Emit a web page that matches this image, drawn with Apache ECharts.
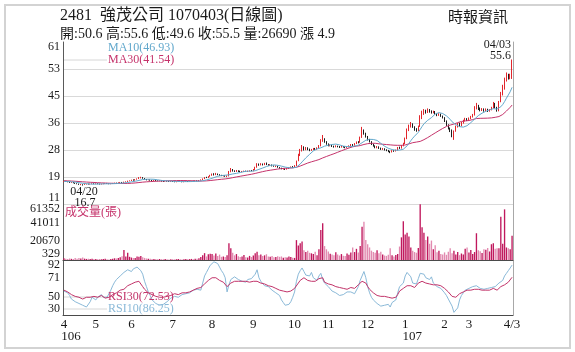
<!DOCTYPE html>
<html>
<head>
<meta charset="utf-8">
<script src="https://cdn.jsdelivr.net/npm/echarts@6/dist/echarts.min.js"></script>
<style>
  html, body { margin: 0; padding: 0; background: #fff; }
  #chart { width: 575px; height: 352px; }
</style>
</head>
<body>
<div id="chart"></div>
<script>
const SERIF = "'Liberation Serif', 'Noto Sans CJK TC', serif";

// trading-day index of each month label on the time axis
const monthTicks = [[0, '4', '106'], [17, '5'], [36, '6'], [58, '7'], [79, '8'], [101, '9'],
  [123, '10'], [141, '11'], [162, '12'], [182, '1', '107'], [203, '2'], [216, '3'], [239, '4/3']];

const priceTickValues = [11, 19.333, 27.667, 36, 44.333, 52.667, 61];
const priceTickLabels = ['11', '19', '28', '36', '45', '53', '61'];
const volumeTickValues = [329, 20670, 41011, 61352];
const rsiTickValues = [30, 50.667, 71.333, 92];
const rsiTickLabels = ['30', '50', '71', '92'];

// closes before the first shown day, needed for the moving averages
const priorCloses = [18.6, 18.5, 18.7, 18.4, 18.3, 18.5, 18.6, 18.4, 18.2, 18.3, 18.1, 18.2, 18.4, 18.3,
  18.1, 18.0, 18.2, 18.3, 18.1, 17.9, 18.0, 18.2, 18.1, 17.9, 17.8, 18.0, 18.1, 17.9, 17.8];

// daily [open, close, low, high]
const candles = [
  // 2017/04
  [17.9,18.0,17.8,18.1],[18.0,17.9,17.8,18.1],[17.9,17.8,17.7,18.0],[17.8,17.6,17.5,17.9],[17.6,17.7,17.5,17.8],
  [17.7,17.5,17.4,17.8],[17.5,17.3,17.2,17.6],[17.3,17.2,17.1,17.4],[17.2,17.0,16.9,17.3],[17.0,17.1,16.8,17.2],
  [17.1,16.9,16.7,17.1],[16.9,17.1,16.9,17.2],[17.1,17.2,17.0,17.3],[17.2,17.1,17.0,17.3],[17.1,17.2,17.0,17.3],
  [17.2,17.3,17.1,17.4],[17.3,17.2,17.1,17.4],
  // 05
  [17.2,17.3,17.1,17.4],[17.3,17.2,17.1,17.4],[17.2,17.1,17.0,17.3],[17.1,17.2,17.0,17.3],[17.2,17.3,17.1,17.4],
  [17.3,17.4,17.2,17.5],[17.4,17.3,17.2,17.5],[17.3,17.2,17.1,17.4],[17.2,17.3,17.1,17.4],[17.3,17.4,17.2,17.5],
  [17.4,17.5,17.3,17.6],[17.5,17.4,17.3,17.6],[17.4,17.6,17.3,17.7],[17.6,17.7,17.5,17.8],[17.7,17.6,17.5,17.8],
  [17.6,17.8,17.5,17.9],[17.8,17.9,17.7,18.0],[17.9,18.1,17.8,18.2],[18.1,18.2,18.0,18.3],
  // 06
  [18.2,18.4,18.1,18.5],[18.4,18.3,18.2,18.6],[18.3,18.6,18.2,18.7],[18.6,18.8,18.5,18.9],[18.8,19.0,18.7,19.3],
  [19.0,19.2,18.9,19.4],[19.2,18.9,18.8,19.3],[18.9,18.6,18.5,19.0],[18.6,18.4,18.3,18.7],[18.4,18.5,18.3,18.6],
  [18.5,18.3,18.2,18.6],[18.3,18.2,18.1,18.4],[18.2,18.3,18.1,18.4],[18.3,18.2,18.1,18.4],[18.2,18.1,18.0,18.3],
  [18.1,18.2,18.0,18.3],[18.2,18.0,17.9,18.3],[18.0,17.9,17.8,18.1],[18.0,18.1,17.9,18.2],[18.1,18.0,17.9,18.2],
  [18.0,17.9,17.8,18.1],[17.9,18.0,17.8,18.1],
  // 07
  [18.0,17.9,17.8,18.1],[17.9,17.8,17.7,18.0],[17.8,17.9,17.7,18.0],[17.9,18.0,17.8,18.1],[18.0,17.9,17.8,18.1],
  [17.9,17.8,17.7,18.0],[17.8,17.9,17.7,18.0],[17.9,18.0,17.8,18.1],[18.0,17.9,17.8,18.1],[17.9,18.0,17.8,18.1],
  [18.0,18.1,17.9,18.2],[18.1,18.0,17.9,18.2],[18.0,18.2,17.9,18.3],[18.2,18.1,18.0,18.3],[18.1,18.3,18.0,18.4],
  [18.3,18.5,18.2,18.6],[18.5,18.8,18.4,18.9],[18.8,19.2,18.7,19.3],[19.2,19.1,19.0,19.4],[19.1,19.5,19.0,19.6],
  [19.5,19.8,19.4,20.0],
  // 08
  [19.8,20.2,19.7,20.4],[20.2,20.0,19.8,20.5],[20.0,20.3,19.9,20.6],[20.3,20.1,19.9,20.4],[20.1,19.9,19.7,20.2],
  [19.9,19.7,19.6,20.0],[19.7,19.8,19.5,19.9],[19.8,19.5,19.4,19.9],[19.5,19.6,19.3,19.8],[19.6,21.0,19.5,21.2],
  [21.0,21.6,20.8,22.1],[21.6,21.2,21.0,21.8],[21.2,21.0,20.9,21.4],[21.0,21.3,20.9,21.5],[21.3,21.1,20.9,21.4],
  [21.1,20.9,20.8,21.3],[20.9,21.0,20.8,21.2],[21.0,21.2,20.9,21.3],[21.2,21.0,20.9,21.3],[21.0,21.1,20.9,21.3],
  [21.1,21.3,21.0,21.4],[21.3,21.2,21.1,21.5],
  // 09
  [21.2,21.6,21.1,21.8],[21.6,22.3,21.5,22.5],[22.3,23.2,22.2,23.6],[23.2,23.0,22.8,23.5],[23.0,23.3,22.9,23.6],
  [23.3,23.1,22.9,23.5],[23.1,23.4,23.0,23.7],[23.4,23.2,23.0,23.8],[23.2,22.9,22.8,23.3],[22.9,23.1,22.8,23.3],
  [23.1,22.8,22.6,23.2],[22.8,22.6,22.5,22.9],[22.6,22.7,22.4,22.9],[22.7,22.3,22.2,22.8],[22.3,22.1,21.9,22.4],
  [22.1,21.8,21.7,22.2],[21.8,21.9,21.6,22.0],[21.9,21.7,21.5,22.0],[21.7,21.9,21.6,22.1],[21.9,22.2,21.8,22.3],
  [22.2,22.5,22.1,22.6],[22.5,22.4,22.2,22.7],
  // 10
  [22.4,22.8,22.3,23.0],[22.8,24.4,22.7,24.4],[24.4,26.0,24.2,26.5],[26.0,27.6,25.8,28.0],[27.6,28.4,27.2,29.2],
  [28.4,27.8,27.5,28.8],[27.8,28.3,27.6,28.6],[28.3,27.9,27.6,28.5],[27.9,27.6,27.3,28.1],[27.6,27.8,27.4,28.0],
  [27.8,28.1,27.6,28.3],[28.1,27.9,27.7,28.3],[27.9,28.3,27.8,28.5],[28.3,28.9,28.2,29.2],[28.9,30.8,28.8,31.0],
  [30.8,31.0,30.2,32.3],[31.0,30.2,29.9,31.3],[30.2,29.5,29.3,30.4],
  // 11
  [29.5,29.0,28.8,29.7],[29.0,29.2,28.8,29.4],[29.2,28.8,28.6,29.3],[28.8,28.6,28.4,29.0],[28.6,28.9,28.5,29.1],
  [28.9,28.7,28.5,29.0],[28.7,28.5,28.3,28.9],[28.5,28.8,28.4,29.0],[28.8,28.6,28.4,28.9],[28.6,28.4,28.2,28.8],
  [28.4,28.7,28.3,28.9],[28.7,28.9,28.5,29.1],[28.9,29.3,28.8,29.5],[29.3,29.1,28.9,29.5],[29.1,29.6,29.0,29.8],
  [29.6,30.1,29.5,30.3],[30.1,30.0,29.7,30.4],[30.0,31.5,29.9,31.8],[31.5,33.6,31.4,34.8],[33.6,32.8,32.4,34.0],
  [32.8,31.8,31.5,33.0],
  // 12
  [31.8,30.9,30.6,32.0],[30.9,30.2,30.0,31.1],[30.2,29.4,29.2,30.4],[29.4,28.9,28.7,29.6],[28.9,28.4,28.2,29.1],
  [28.4,28.7,28.2,28.9],[28.7,28.2,28.0,28.8],[28.2,27.9,27.7,28.4],[27.9,28.1,27.7,28.3],[28.1,27.7,27.5,28.2],
  [27.7,27.5,27.3,27.9],[27.5,27.2,27.0,27.7],[27.2,27.0,26.7,27.4],[27.0,27.4,26.9,27.6],[27.4,27.3,27.1,27.6],
  [27.3,27.6,27.2,27.8],[27.6,28.4,27.5,28.6],[28.4,28.2,28.0,28.7],[28.2,28.9,28.1,29.2],[28.9,29.6,28.8,29.9],
  // 2018/01
  [29.6,31.2,29.5,31.5],[31.2,33.8,31.0,34.3],[33.8,34.9,33.5,35.5],[34.9,35.6,34.6,36.3],[35.6,34.8,34.5,35.9],
  [34.8,34.0,33.6,35.0],[34.0,33.6,33.3,34.4],[33.6,34.9,33.5,35.2],[34.9,37.6,34.8,38.4],[37.6,38.8,37.2,39.8],
  [38.8,39.6,38.5,40.3],[39.6,39.3,38.9,40.1],[39.3,40.0,39.1,40.5],[40.0,39.6,39.2,40.3],[39.6,39.2,38.9,39.9],
  [39.2,39.5,39.0,39.8],[39.5,38.9,38.6,39.7],[38.9,38.4,38.1,39.1],[38.4,38.7,38.2,39.0],[38.7,38.1,37.9,38.9],
  [38.1,37.6,37.4,38.3],
  // 02
  [37.6,36.6,36.3,37.8],[36.6,35.4,35.1,36.8],[35.4,34.3,34.0,35.6],[34.3,33.8,33.2,34.6],[33.8,32.0,31.6,34.0],
  [31.8,33.4,30.8,33.7],[33.4,34.9,33.3,35.2],[34.9,35.6,34.6,36.0],[35.6,35.2,34.9,36.1],[35.2,36.0,35.0,36.3],
  [36.0,36.7,35.8,37.0],[36.7,37.2,36.5,37.6],[37.2,36.9,36.6,37.5],
  // 03
  [36.9,37.4,36.7,37.7],[37.4,37.9,37.2,38.2],[37.9,38.4,37.7,38.8],[38.4,40.6,38.3,41.2],[40.6,41.3,40.2,42.2],
  [41.3,40.4,40.0,41.6],[40.4,39.9,39.6,40.8],[39.9,40.3,39.7,40.6],[40.3,39.8,39.5,40.5],[39.8,40.2,39.6,40.5],
  [40.2,39.7,39.4,40.4],[39.7,40.0,39.5,40.3],[40.0,40.6,39.9,41.0],[40.6,41.9,40.5,42.5],[41.9,40.8,40.5,42.2],
  [40.8,39.8,39.5,41.0],[39.8,42.6,39.6,42.8],[42.6,44.8,42.4,45.6],[44.8,46.6,44.5,47.8],[46.6,49.2,46.3,50.0],
  [49.2,50.4,48.8,51.6],[50.4,49.8,49.4,51.2],
  // 04
  [49.8,50.6,49.5,51.2],[50.6,55.5,49.6,55.6]
];

// daily volume (張)
const volumes = [
  2200,1800,1500,2000,1600,1400,2400,1800,2600,2000,3000,1800,1500,1700,1400,1600,1300,
  1500,1200,1400,1100,1300,1600,1200,1000,1400,1800,2200,2000,2600,3200,4500,11200,4200,8200,3800,
  3000,2600,2400,4200,3800,4600,3400,2600,2000,1800,1600,1400,1500,1300,1200,1400,1200,1100,1300,1200,1000,1200,
  1100,1000,1200,1300,1100,1000,1200,1400,1100,1300,1500,1200,1800,1600,2200,3500,5500,7800,4200,6500,7200,
  6800,5200,7500,4800,6200,3800,4200,3500,5600,18500,13000,8200,5400,6800,4500,3600,4200,5800,3400,3000,4800,3600,
  5200,7800,9200,5600,6200,4800,5400,6600,4200,3800,4600,3200,3600,4400,3800,4200,2800,3400,3000,4200,3600,2800,
  2600,22000,16000,18500,20500,11000,9000,10500,8200,7600,6800,9400,5500,12000,33000,40500,15500,12000,
  9500,7200,6400,5600,8800,6200,5200,6800,5000,4600,7400,6000,8600,14000,9000,12500,8400,15500,36500,42000,22000,
  17500,14000,10500,9000,8200,11000,7600,9200,6400,5200,4800,6000,13000,5400,4200,5800,7000,15000,25000,42500,
  28000,30000,26000,14000,10500,9000,8200,13500,61000,36000,30000,22000,26000,18000,21500,12000,16500,8800,10500,7000,6200,
  8600,6000,9400,13200,7800,10500,6400,9000,5600,7400,6200,12500,14000,
  8600,11200,7000,9000,29500,11000,10000,8000,12000,11500,13500,9600,17500,18500,12500,13000,13000,47500,18000,55500,14000,13000,
  12000,26690
];

const rsi30 = [
  58,57,56,55,53,52,51,50,50,49, 48,49,50,49,50,51,51,52,50,51,
  52,50,49,49,50,52,53,54,55,57, 58,58,59,61,63,64,65,66,67,67,
  68,66,62,59,57,55,54,53,52,51, 51,50,51,50,50,51,52,52,53,54,
  54,53,54,55,54,55,55,56,58,58, 59,60,60,61,63,65,67,69,71,72,
  73,72,70,69,68,67,66,62,63,66, 68,68,67,68,69,68,67,68,68,67,
  67,68,69,68,67,66,65,65,64,63, 62,62,61,60,59,58,58,57,57,56,
  57,57,58,60,62,66,69,71,72,70, 69,68,68,67,68,69,71,73,72,67,
  66,65,64,64,63,62,62,61,60,60, 59,59,60,61,60,60,61,64,66,68,
  69,66,62,59,57,55,53,52,51,51, 50,51,50,50,49,49,50,50,53,57,
  59,60,61,63,64,63,62,61,63,66, 67,68,67,66,66,65,65,64,65,64,
  64,63,62,60,58,56,54,51,49,50, 52,54,55,56,57,58,57,58,58,59,
  60,59,58,58,59,58,59,58,59,60, 59,58,60,62,63,64,66,67,69,72.53
];

const rsi10 = [
  57,56,55,52,48,46,45,44,43,42, 41,40,39,41,45,50,48,47,50,52,
  53,50,49,50,52,58,63,67,70,72, 74,76,78,80,81,80,79,82,83,84,
  82,80,76,68,62,56,52,47,45,43, 42,41,40,42,44,45,47,49,50,51,
  52,50,51,53,52,54,53,55,56,58, 57,59,60,58,66,74,78,82,86,88,
  90,89,88,84,80,77,72,56,64,70, 72,73,71,70,72,68,66,67,70,72,
  71,73,76,81,72,68,66,63,61,62, 60,58,57,55,56,52,47,44,41,39,
  42,45,50,56,68,76,80,83,79,75, 73,74,78,72,70,69,74,77,70,66,
  64,62,60,57,56,55,54,52,50,53, 55,56,58,56,55,54,56,62,69,74,
  79,72,62,55,50,47,45,43,41,40, 39,41,40,42,39,44,46,47,55,62,
  64,66,74,78,79,73,66,64,65,71, 77,79,76,72,71,70,73,66,64,62,
  63,60,61,55,52,48,47,40,33,31, 38,47,52,55,58,59,60,61,62,64,
  63,62,60,61,59,58,60,62,61,59, 62,60,66,68,69,74,77,80,83,86.25
];

const N = candles.length;
if (volumes.length !== N || rsi10.length !== N || rsi30.length !== N) {
  throw new Error('length mismatch ' + [N, volumes.length, rsi10.length, rsi30.length].join(','));
}

const days = candles.map((_, i) => i);
const tickMap = new Map(monthTicks.map(t => [t[0], t]));

function movingAverage(span) {
  const closes = priorCloses.concat(candles.map(c => c[1]));
  return candles.map((_, i) => {
    const end = priorCloses.length + i + 1;
    let sum = 0;
    for (let k = end - span; k < end; k++) sum += closes[k];
    return +(sum / span).toFixed(2);
  });
}

const UP = '#e2262c';
const DOWN = '#1c1c1c';
const MA10_COLOR = '#62a8cc';
const MA30_COLOR = '#c5336b';
const RSI10_COLOR = '#8ab9d8';
const RSI30_COLOR = '#c2346a';

const labelStyle = { fontFamily: SERIF, fontSize: 12, color: '#1a1a1a' };
const richShift = {
  dn: Object.assign({ padding: [10, 0, 0, 0] }, labelStyle),
  up: Object.assign({ padding: [0, 0, 12, 0] }, labelStyle)
};

function shiftedLabel(values, labels) {
  return (v) => {
    let k = 0;
    values.forEach((t, i) => { if (Math.abs(t - v) < Math.abs(values[k] - v)) k = i; });
    const txt = labels[k];
    if (k === values.length - 1) return '{dn|' + txt + '}';
    if (k === 0) return '{up|' + txt + '}';
    return txt;
  };
}

const chart = echarts.init(document.getElementById('chart'), null, { renderer: 'canvas' });

const valueAxisBase = {
  type: 'value',
  position: 'left',
  axisLine: { show: true, lineStyle: { color: '#5a5a5a', width: 1 } },
  axisTick: { show: false },
};

const rightLine = (g) => ({
  type: 'value', gridIndex: g, position: 'right', min: 0, max: 1,
  axisLine: { show: true, lineStyle: { color: '#a8a8a8' } },
  axisTick: { show: false }, axisLabel: { show: false }, splitLine: { show: false }
});

const option = {
  animation: false,
  backgroundColor: '#ffffff',
  grid: [
    { left: 63, right: 62, top: 42, height: 162 },
    { left: 63, right: 62, top: 204, height: 56 },
    { left: 63, right: 62, top: 260, height: 55 }
  ],
  xAxis: [0, 1, 2].map(g => ({
    type: 'category',
    gridIndex: g,
    data: days,
    boundaryGap: true,
    axisLine: { show: g > 0, onZero: false, lineStyle: { color: '#4a4a4a' } },
    axisTick: { show: false },
    splitLine: { show: false },
    axisLabel: {
      show: g === 2,
      interval: (idx) => tickMap.has(idx),
      margin: 4,
      formatter: (v, idx) => {
        const t = tickMap.get(idx);
        if (!t) return '';
        return t[2] ? '{m|' + t[1] + '}\n{y|' + t[2] + '}' : '{m|' + t[1] + '}';
      },
      rich: {
        m: { fontFamily: SERIF, fontSize: 13, color: '#1a1a1a', lineHeight: 12, align: 'center' },
        y: { fontFamily: SERIF, fontSize: 13, color: '#1a1a1a', lineHeight: 12, align: 'center', padding: [0, 0, 0, 14] }
      }
    }
  })),
  yAxis: [
    Object.assign({}, valueAxisBase, {
      gridIndex: 0, min: 11, max: 61,
      axisTick: { show: false, customValues: priceTickValues },
      axisLabel: Object.assign({ customValues: priceTickValues, margin: 3,
        formatter: shiftedLabel(priceTickValues, priceTickLabels), rich: richShift }, labelStyle),
      splitLine: { show: true, lineStyle: { width: 1,
        color: ['#d9d9d9', '#d9d9d9', '#d9d9d9', '#d9d9d9', '#d9d9d9', '#d9d9d9', 'rgba(0,0,0,0)'] } }
    }),
    Object.assign({}, valueAxisBase, {
      gridIndex: 1, min: 329, max: 61352,
      axisTick: { show: false, customValues: volumeTickValues },
      axisLabel: Object.assign({ customValues: volumeTickValues, margin: 3,
        formatter: shiftedLabel(volumeTickValues, volumeTickValues.map(String)), rich: richShift }, labelStyle),
      splitLine: { show: false }
    }),
    Object.assign({}, valueAxisBase, {
      gridIndex: 2, min: 30, max: 92,
      axisTick: { show: false, customValues: rsiTickValues },
      axisLabel: Object.assign({ customValues: rsiTickValues, margin: 3,
        formatter: shiftedLabel(rsiTickValues, rsiTickLabels), rich: richShift }, labelStyle),
      splitLine: { show: false }
    }),
    rightLine(0), rightLine(1), rightLine(2)
  ],
  series: [
    {
      type: 'candlestick', xAxisIndex: 0, yAxisIndex: 0, data: candles,
      barWidth: '60%',
      itemStyle: { color: UP, color0: DOWN, borderColor: UP, borderColor0: DOWN, borderWidth: 1 }
    },
    {
      type: 'line', xAxisIndex: 0, yAxisIndex: 0, data: movingAverage(30),
      showSymbol: false, lineStyle: { color: MA30_COLOR, width: 1 }, z: 3
    },
    {
      type: 'line', xAxisIndex: 0, yAxisIndex: 0, data: movingAverage(10),
      showSymbol: false, lineStyle: { color: MA10_COLOR, width: 1 }, z: 3
    },
    {
      type: 'bar', xAxisIndex: 1, yAxisIndex: 1, barWidth: '72%',
      data: volumes.map((v, i) => ({
        value: v,
        itemStyle: { color: candles[i][1] >= candles[i][0] ? '#c0185d' : '#e28ab0' }
      }))
    },
    {
      type: 'line', xAxisIndex: 2, yAxisIndex: 2, data: rsi10,
      showSymbol: false, lineStyle: { color: RSI10_COLOR, width: 1 }
    },
    {
      type: 'line', xAxisIndex: 2, yAxisIndex: 2, data: rsi30,
      showSymbol: false, lineStyle: { color: RSI30_COLOR, width: 1 }
    }
  ],
  graphic: [
    { type: 'rect', shape: { x: 5, y: 5, width: 565, height: 343 }, z: 0,
      style: { fill: 'none', stroke: '#d3d3d3', lineWidth: 2 } },
    { type: 'line', shape: { x1: 64, y1: 60, x2: 107, y2: 60 }, style: { stroke: '#d6d6d6', lineWidth: 1 } },
    { type: 'line', shape: { x1: 64, y1: 297, x2: 107, y2: 297 }, style: { stroke: '#d6d6d6', lineWidth: 1 } },
    { type: 'line', shape: { x1: 64, y1: 309, x2: 107, y2: 309 }, style: { stroke: '#d6d6d6', lineWidth: 1 } },
    ...[
      ['2481  強茂公司 1070403(日線圖)', 60, 16, 16, '#1a1a1a', 'left'],
      ['開:50.6 高:55.6 低:49.6 收:55.5 量:26690 漲 4.9', 60, 34, 14, '#1a1a1a', 'left'],
      ['時報資訊', 448, 18, 15, '#1a1a1a', 'left'],
      ['MA10(46.93)', 108, 48, 12, MA10_COLOR, 'left'],
      ['MA30(41.54)', 108, 60, 12, MA30_COLOR, 'left'],
      ['04/03', 511, 45, 12, '#1a1a1a', 'right'],
      ['55.6', 511, 56, 12, '#1a1a1a', 'right'],
      ['04/20', 84, 192, 12, '#1a1a1a', 'center'],
      ['16.7', 85, 203, 12, '#1a1a1a', 'center'],
      ['成交量(張)', 65, 213, 12, MA30_COLOR, 'left'],
      ['RSI30(72.53)', 108, 297, 12, RSI30_COLOR, 'left'],
      ['RSI10(86.25)', 108, 309, 12, RSI10_COLOR, 'left']
    ].map(([text, x, y, size, fill, align]) => ({
      type: 'text', x, y, z: 100,
      style: { text, fill, font: size + 'px ' + SERIF, textAlign: align, textVerticalAlign: 'middle',
        align, verticalAlign: 'middle' }
    }))
  ]
};

chart.setOption(option);
</script>
</body>
</html>
